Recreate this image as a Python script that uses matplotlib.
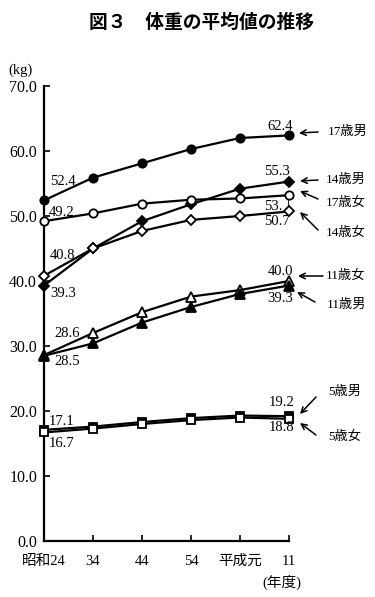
import matplotlib
matplotlib.use('Agg')
import matplotlib.pyplot as plt

plt.rcParams['font.family'] = ['Liberation Serif', 'Noto Sans CJK JP']

# x categories (年度)
years = ['昭和24', '34', '44', '54', '平成元', '11']

# average body weight (kg)
boy17 = [52.4, 55.9, 58.1, 60.3, 62.0, 62.4]
boy14 = [39.3, 45.0, 49.2, 51.8, 54.2, 55.3]
girl17 = [49.2, 50.4, 51.9, 52.5, 52.7, 53.2]
girl14 = [40.8, 45.0, 47.7, 49.4, 50.0, 50.7]
girl11 = [28.6, 32.0, 35.2, 37.6, 38.6, 40.0]
boy11 = [28.5, 30.4, 33.6, 36.0, 38.0, 39.3]
boy5 = [17.1, 17.6, 18.3, 18.9, 19.3, 19.2]
girl5 = [16.7, 17.3, 18.0, 18.6, 19.0, 18.8]

yticks = [0, 10, 20, 30, 40, 50, 60, 70]

# (values, marker, filled, size, first label offset, last label text, last label offset)
series = [
    (boy17, 'o', True, 6, (19, 19), None, (-9, 9)),
    (boy14, 'D', True, 5, (19, -8), None, (-12, 10)),
    (girl17, 'o', False, 6, (18, 9), '53.', (-16, -11)),
    (girl14, 'D', False, 5, (19, 20), None, (-12, -10)),
    (girl11, '^', False, 7, (23, 22), None, (-9, 9)),
    (boy11, '^', True, 7, (23, -6), None, (-9, -13)),
    (boy5, 's', True, 6, (18, 8), None, (-7, 14)),
    (girl5, 's', False, 6, (18, -11), None, (-7, -9)),
]

# right-side names: (text, label pos, arrow tail, arrow tip) in image pixels
names = [
    ('17歳男', (328, 132), (318, 132), (299, 133)),
    ('14歳男', (326, 180), (318, 180), (300, 181)),
    ('17歳女', (326, 203), (318, 199), (300, 191)),
    ('14歳女', (326, 233), (318, 230), (300, 212)),
    ('11歳女', (326, 276), (323, 276), (298, 276)),
    ('11歳男', (327, 305), (315, 302), (297, 292)),
    ('5歳男', (328, 392), (316, 397), (300, 414)),
    ('5歳女', (328, 437), (316, 435), (300, 423)),
]

W, H = 375, 597
fig = plt.figure(figsize=(W / 100, H / 100), dpi=100)
ax = fig.add_axes([44 / W, 56 / H, 245 / W, 455 / H])

x = list(range(len(years)))
for vals, mk, filled, ms, off0, last_txt, off1 in series:
    ax.plot(x, vals, color='black', lw=1.6, marker=mk, ms=ms,
            mfc='black' if filled else 'white', mec='black', mew=1.3,
            clip_on=False, zorder=3)
    ax.annotate(f'{vals[0]:.1f}', (x[0], vals[0]), xytext=off0,
                textcoords='offset pixels', ha='center', va='center',
                fontsize=10.5)
    ax.annotate(last_txt or f'{vals[-1]:.1f}', (x[-1], vals[-1]), xytext=off1,
                textcoords='offset pixels', ha='center', va='center',
                fontsize=10.5)

# short connector seen between 17歳女 and 14歳女 at the last year
ax.vlines(x[-1], girl14[-1], girl17[-1], color='black', lw=1.2, zorder=2)

ax.set_xlim(0, 5)
ax.set_ylim(0, 70)
ax.set_xticks(x)
ax.set_xticklabels(years, fontsize=10.5)
ax.set_yticks(yticks)
ax.set_yticklabels([f'{v:.1f}' for v in yticks], fontsize=11.5)
ax.tick_params(direction='in', length=4, width=1.2)
ax.tick_params(axis='y', pad=5)
ax.tick_params(axis='x', pad=10)
ax.spines['top'].set_visible(False)
ax.spines['right'].set_visible(False)
for s in ('left', 'bottom'):
    ax.spines[s].set_linewidth(1.6)

for txt, lab, tail, tip in names:
    fig.text(lab[0] / W, 1 - lab[1] / H, txt, fontsize=9.5, ha='left', va='center')
    ax.annotate('', xy=(tip[0], H - tip[1]), xycoords='figure pixels',
                xytext=(tail[0], H - tail[1]), textcoords='figure pixels',
                arrowprops=dict(arrowstyle='->', lw=1.1, color='black',
                                shrinkA=0, shrinkB=0, mutation_scale=10))

fig.text(202 / W, 1 - 22 / H, '図３　体重の平均値の推移', fontsize=13.5,
         fontweight='bold', ha='center', va='center',
         family=['Noto Sans CJK JP'])
fig.text(8 / W, 1 - 70 / H, '(kg)', fontsize=10.5, ha='left', va='center')
fig.text(282 / W, 1 - 582 / H, '(年度)', fontsize=10.5, ha='center', va='center')

fig.savefig('out.png', dpi=100)
